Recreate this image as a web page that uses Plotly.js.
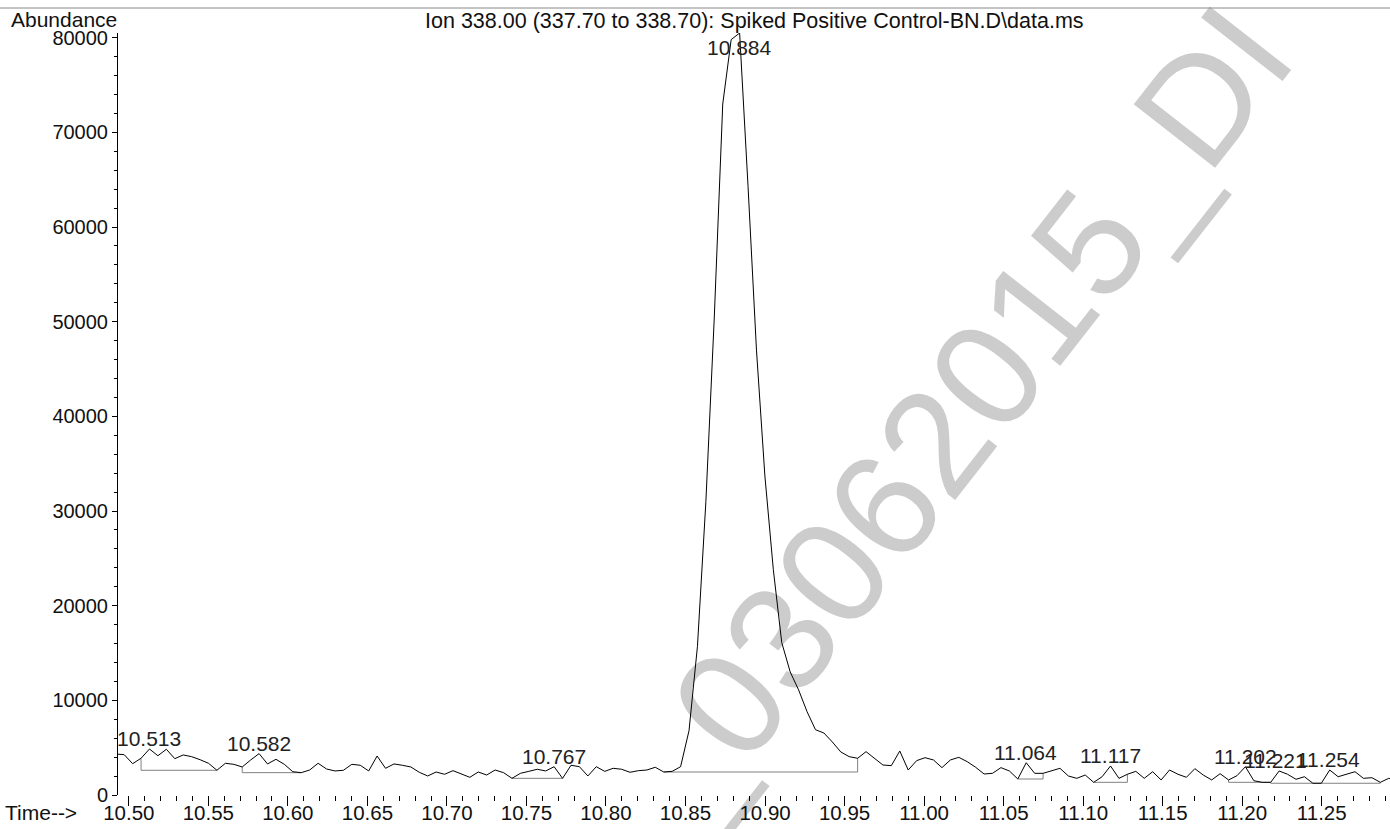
<!DOCTYPE html>
<html>
<head>
<meta charset="utf-8">
<script src="https://cdn.plot.ly/plotly-3.0.1.min.js"></script>
<style>
  html, body { margin: 0; padding: 0; background: #ffffff; }
  #chart { width: 1390px; height: 829px; }
</style>
</head>
<body>
<div id="chart"></div>
<script>
// ---- Data ----
const retentionTime = [
  10.4918, 10.4971, 10.5024, 10.5077, 10.5130, 10.5183, 10.5236, 10.5289, 10.5342, 10.5395,
  10.5448, 10.5501, 10.5554, 10.5607, 10.5660, 10.5713, 10.5766, 10.5819, 10.5872, 10.5925,
  10.5978, 10.6031, 10.6084, 10.6137, 10.6190, 10.6243, 10.6296, 10.6349, 10.6402, 10.6455,
  10.6508, 10.6561, 10.6614, 10.6667, 10.6720, 10.6773, 10.6826, 10.6879, 10.6932, 10.6985,
  10.7038, 10.7091, 10.7144, 10.7197, 10.7250, 10.7303, 10.7356, 10.7409, 10.7462, 10.7515,
  10.7568, 10.7621, 10.7674, 10.7727, 10.7780, 10.7833, 10.7886, 10.7939, 10.7992, 10.8045,
  10.8098, 10.8151, 10.8204, 10.8257, 10.8310, 10.8363, 10.8416, 10.8469, 10.8522, 10.8575,
  10.8628, 10.8681, 10.8734, 10.8787, 10.8840, 10.8893, 10.8946, 10.8999, 10.9052, 10.9105,
  10.9158, 10.9211, 10.9264, 10.9317, 10.9370, 10.9423, 10.9476, 10.9529, 10.9582, 10.9635,
  10.9688, 10.9741, 10.9794, 10.9847, 10.9900, 10.9953, 11.0006, 11.0059, 11.0112, 11.0165,
  11.0218, 11.0271, 11.0324, 11.0377, 11.0430, 11.0483, 11.0536, 11.0589, 11.0642, 11.0695,
  11.0748, 11.0801, 11.0854, 11.0907, 11.0960, 11.1013, 11.1066, 11.1119, 11.1172, 11.1225,
  11.1278, 11.1331, 11.1384, 11.1437, 11.1490, 11.1543, 11.1596, 11.1649, 11.1702, 11.1755,
  11.1808, 11.1861, 11.1914, 11.1967, 11.2020, 11.2073, 11.2126, 11.2179, 11.2232, 11.2285,
  11.2338, 11.2391, 11.2444, 11.2497, 11.2550, 11.2603, 11.2656, 11.2709, 11.2762, 11.2815,
  11.2868, 11.2921, 11.2974
];
const abundance = [
  4330, 4260, 3310, 3880, 4860, 4150, 4830, 3840, 4230, 4050,
  3730, 3350, 2610, 3350, 3240, 2960, 3700, 4370, 3280, 3770,
  3240, 2460, 2360, 2640, 3350, 2750, 2540, 2610, 3240, 3140,
  2540, 4120, 2820, 3280, 3140, 2960, 2400, 2010, 2430, 2190,
  2570, 2220, 1870, 2430, 2110, 2640, 2360, 1760, 2290, 2500,
  2720, 2540, 2990, 1760, 3140, 2990, 2010, 2990, 2500, 2820,
  2720, 2400, 2570, 2640, 2930, 2430, 2500, 2990, 6800, 15700,
  31000, 50500, 73000, 79800, 80500, 64300, 47000, 33700, 23800, 16100,
  13000, 11100, 8800, 6900, 6550, 5600, 4550, 4050, 3880, 4580,
  3880, 3170, 3100, 4650, 2640, 3630, 3940, 3700, 2890, 3700,
  3980, 3520, 2930, 2220, 2290, 2890, 2540, 1690, 3410, 2290,
  2290, 2570, 2820, 2010, 1760, 2110, 1340, 1930, 3070, 1760,
  2190, 2500, 1760, 2460, 1590, 2640, 2190, 1870, 2780, 2110,
  1590, 2250, 1590, 2040, 2990, 1510, 1340, 1340, 2540, 2190,
  1660, 1930, 1240, 1240, 2640, 1930, 2220, 2460, 1760, 1830,
  1340, 1760, 1510
];

// Integrated peaks: apex labels
const peakTimes = [10.513, 10.582, 10.767, 10.884, 11.064, 11.117, 11.202, 11.221, 11.254];
const peakApex  = [4860, 4370, 2990, 80500, 3410, 3070, 2990, 2540, 2640];
const peakLabels = ['10.513', '10.582', '10.767', '10.884', '11.064', '11.117', '11.202', '11.221', '11.254'];

// Integration baselines
const baseStartTime  = [10.5077, 10.5713, 10.7409, 10.8363, 11.0589, 11.1066, 11.1914, 11.2179, 11.2444];
const baseEndTime    = [10.5554, 10.6084, 10.7727, 10.9582, 11.0748, 11.1278, 11.2179, 11.2444, 11.2868];
const baseStartAbund = [3880, 2960, 1760, 2430, 1690, 1340, 1590, 1340, 1240];
const baseEndAbund   = [2610, 2360, 1760, 3880, 2290, 2190, 1340, 1240, 1340];
const baseLevel      = [2610, 2360, 1760, 2430, 1690, 1340, 1340, 1240, 1240];

// Axis ticks
const xTickVals = [10.50, 10.55, 10.60, 10.65, 10.70, 10.75, 10.80, 10.85, 10.90, 10.95, 11.00, 11.05, 11.10, 11.15, 11.20, 11.25];
const xTickText = ['10.50', '10.55', '10.60', '10.65', '10.70', '10.75', '10.80', '10.85', '10.90', '10.95', '11.00', '11.05', '11.10', '11.15', '11.20', '11.25'];
const yTickVals = [0, 10000, 20000, 30000, 40000, 50000, 60000, 70000, 80000];
const yTickText = ['0', '10000', '20000', '30000', '40000', '50000', '60000', '70000', '80000'];

const chartTitle = 'Ion 338.00 (337.70 to 338.70): Spiked Positive Control-BN.D\\data.ms';
const watermarkText = '_03062015_DI';

// ---- Build figure ----
const FONT = 'Liberation Sans, Arial, Helvetica, sans-serif';

const bx = [], by = [];
for (let i = 0; i < baseStartTime.length; i++) {
  bx.push(baseStartTime[i], baseStartTime[i], baseEndTime[i], baseEndTime[i], null);
  by.push(baseStartAbund[i], baseLevel[i], baseLevel[i], baseEndAbund[i], null);
}

const traces = [
  {
    x: bx, y: by, type: 'scatter', mode: 'lines',
    line: { color: '#808080', width: 1 }, hoverinfo: 'skip', showlegend: false
  },
  {
    x: retentionTime, y: abundance, type: 'scatter', mode: 'lines',
    line: { color: '#000000', width: 1 }, showlegend: false
  }
];

const annotations = peakTimes.map((t, i) => ({
  x: t, y: peakApex[i], xref: 'x', yref: 'y',
  text: peakLabels[i], showarrow: false,
  xanchor: 'center',
  yanchor: peakApex[i] > 70000 ? 'top' : 'bottom',
  yshift: peakApex[i] > 70000 ? -1 : -3,
  font: { family: FONT, size: 21, color: '#222222' }
}));

annotations.push({
  xref: 'paper', yref: 'paper', x: -0.0857, y: 1.0171, xanchor: 'left', yanchor: 'middle',
  text: 'Abundance', showarrow: false, font: { family: FONT, size: 21, color: '#111111' }
});
annotations.push({
  xref: 'paper', yref: 'paper', x: -0.0904, y: -0.0236, xanchor: 'left', yanchor: 'middle',
  text: 'Time-->', showarrow: false, font: { family: FONT, size: 21, color: '#111111' }
});

const layout = {
  width: 1390, height: 829,
  margin: { l: 118, r: 0, t: 33, b: 34, pad: 0 },
  paper_bgcolor: '#ffffff', plot_bgcolor: '#ffffff',
  font: { family: FONT, size: 20, color: '#111111' },
  title: {
    text: chartTitle,
    xref: 'container', yref: 'container',
    x: 0.3058, xanchor: 'left',
    y: 0.9759, yanchor: 'middle',
    font: { family: FONT, size: 21.5, color: '#111111' }
  },
  xaxis: {
    range: [10.4932, 11.2929],
    tickmode: 'array', tickvals: xTickVals, ticktext: xTickText,
    ticks: 'outside', ticklen: 10, tickwidth: 1, tickcolor: '#000000',
    ticklabelstandoff: -11,
    minor: { tickmode: 'linear', tick0: 10.5, dtick: 0.01, ticks: 'outside', ticklen: 5, tickwidth: 1, tickcolor: '#000000', showgrid: false },
    showline: false, zeroline: false, showgrid: false,
    tickfont: { family: FONT, size: 20.5, color: '#111111' }
  },
  yaxis: {
    range: [0, 80500],
    tickmode: 'array', tickvals: yTickVals, ticktext: yTickText,
    ticks: 'outside', ticklen: 5, tickwidth: 1, tickcolor: '#000000',
    minor: { tickmode: 'linear', tick0: 0, dtick: 2000, ticks: 'outside', ticklen: 3, tickwidth: 1, tickcolor: '#000000', showgrid: false },
    showline: true, linecolor: '#000000', linewidth: 1,
    zeroline: false, showgrid: false,
    tickfont: { family: FONT, size: 20, color: '#111111' }
  },
  shapes: [
    {
      type: 'rect', xref: 'paper', yref: 'paper',
      x0: 0.64, x1: 0.66, y0: 0.50, y1: 0.52,
      line: { width: 0 }, fillcolor: 'rgba(0,0,0,0)', layer: 'below',
      label: {
        text: watermarkText, textangle: -52, textposition: 'middle center',
        font: { family: FONT, size: 150, color: '#cccccc' }
      }
    },
    {
      type: 'line', xref: 'paper', yref: 'paper',
      x0: -0.0928, x1: 1, y0: 1.0328, y1: 1.0328,
      line: { color: '#888888', width: 1 }
    }
  ],
  annotations: annotations,
  showlegend: false
};

Plotly.newPlot('chart', traces, layout, { staticPlot: true, displayModeBar: false });
</script>
</body>
</html>
